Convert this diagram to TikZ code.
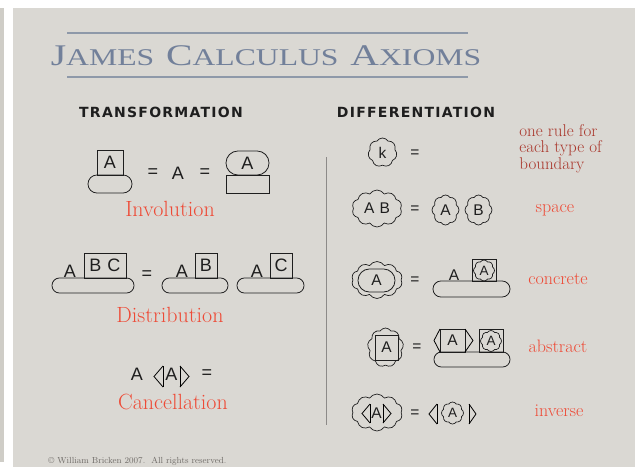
\documentclass[tikz,border=0pt]{standalone}
\usepackage{fontspec}
\usetikzlibrary{shapes.symbols}
\newfontfamily\lettf{Liberation Sans}
\newfontfamily\headf[LetterSpace=9]{DejaVu Sans}
\newfontfamily\titlef{Liberation Serif}
\definecolor{bgc}{HTML}{DAD8D3}
\definecolor{stripc}{HTML}{CFCDC7}
\definecolor{titlec}{HTML}{72809A}
\definecolor{rulec}{HTML}{8E99A9}
\definecolor{redc}{HTML}{EE4A36}
\definecolor{dredc}{HTML}{A9362B}
\definecolor{ink}{HTML}{1E1E1E}
\definecolor{divc}{HTML}{8C8A88}
\definecolor{copyc}{HTML}{6E6A66}
\newcommand\TB[1]{{\fontsize{30}{30}\selectfont #1}}
\newcommand\TS[1]{{\fontsize{24}{24}\selectfont #1}}
\begin{document}
\begin{tikzpicture}[x=1pt,y=-1pt,
  every path/.style={line width=0.8pt},
  symL/.style={font=\lettf\fontsize{18}{18}\selectfont, inner sep=0pt, text=ink},
  symR/.style={font=\lettf\fontsize{15.5}{15.5}\selectfont, inner sep=0pt, text=ink},
  symS/.style={font=\lettf\fontsize{13.5}{13.5}\selectfont, inner sep=0pt, text=ink},
  boxn/.style={draw=ink, inner sep=0pt},
  cl/.style={cloud, draw=ink, cloud puffs=#1, cloud puff arc=115, cloud ignores aspect, inner sep=0pt, line width=0.7pt},
  labL/.style={font=\fontsize{22}{22}\selectfont, text=redc, inner sep=0pt, anchor=base},
  labR/.style={font=\fontsize{18}{18}\selectfont, text=redc, inner sep=0pt, anchor=base},
  head/.style={font=\headf\bfseries\fontsize{14}{14}\selectfont, text=ink, inner sep=0pt, anchor=base},
  stad/.style={draw=ink}
]
\useasboundingbox (0,0) rectangle (635,467);
\fill[white] (0,0) rectangle (635,467);
\fill[stripc] (0,8) rectangle (4,462);
\fill[bgc] (13,8) rectangle (635,467);
% title
\draw[rulec, line width=1.2pt] (67,33) -- (468,33);
\draw[rulec, line width=1.2pt] (67,77) -- (468,77);
\node[font=\titlef, text=titlec, inner sep=0pt, anchor=base] (title) at (266,65)
  {\scalebox{1.32}[1]{\TB{J}\TS{AMES}\hspace{9pt}\TB{C}\TS{ALCULUS}\hspace{9pt}\TB{A}\TS{XIOMS}}};
% headers
\node[head] (h1) at (161,117) {TRANSFORMATION};
\node[head] (h2) at (416,117) {DIFFERENTIATION};
\draw[divc, line width=0.7pt] (326,157) -- (326,425);
% ---- Involution
\node[boxn, symL, minimum width=26pt, minimum height=25pt] (i1) at (110,162.5) {A};
\draw[stad, rounded corners=8.9pt] (88,175) rectangle (132,193);
\node[symL] (ie1) at (153,173) {=};
\node[symL] (ia) at (178,173) {A};
\node[symL] (ie2) at (205,173) {=};
\draw[stad, rounded corners=11.9pt] (226,151) rectangle (269,175);
\node[symL] (i2) at (247.5,163.5) {A};
\draw[stad] (226,175) rectangle (269,193);
\node[labL] (linv) at (170,216) {Involution};
% ---- Distribution
\node[symL] (d1a) at (70,271.5) {A};
\node[boxn, symL, minimum width=42pt, minimum height=25pt] (d1b) at (105,265.5) {B\,\,C};
\draw[stad, rounded corners=7.4pt] (52,278) rectangle (134,293);
\node[symL] (de) at (147,275) {=};
\node[symL] (d2a) at (182,271.5) {A};
\node[boxn, symL, minimum width=22pt, minimum height=25pt] (d2b) at (206,265.5) {B};
\draw[stad, rounded corners=7.4pt] (162,278) rectangle (228,293);
\node[symL] (d3a) at (257,271.5) {A};
\node[boxn, symL, minimum width=22pt, minimum height=25pt] (d3b) at (281,265.5) {C};
\draw[stad, rounded corners=7.4pt] (237,278) rectangle (304,293);
\node[labL] (ldis) at (170,322) {Distribution};
% ---- Cancellation
\node[symL] (ca) at (137,374) {A};
\draw (163,366) -- (154,376.5) -- (163,387);
\draw[line width=1pt] (163,366) -- (163,387);
\node[symL] (cb) at (171.5,374) {A};
\draw[line width=1pt] (180,366) -- (180,387);
\draw (180,366) -- (189,376.5) -- (180,387);
\node[symL] (ce) at (207,374) {=};
\node[labL] (lcan) at (173,409) {Cancellation};
% copyright
\node[font=\fontsize{8.8}{8.8}\selectfont, text=copyc, inner sep=0pt, anchor=base west] (copy) at (48,463) {\textcopyright{} William Bricken 2007.\ \ All rights reserved.};
% ---- Differentiation: k
\node[cl=7, symR, minimum width=29pt, minimum height=29pt] (k) at (382.5,152.5) {k};
\node[symR] (ke) at (415,154) {=};
\node[font=\fontsize{17}{16.5}\selectfont, text=dredc, inner sep=0pt, anchor=base west] (rule1) at (519,136) {one rule for};
\node[font=\fontsize{17}{16.5}\selectfont, text=dredc, inner sep=0pt, anchor=base west] (rule2) at (519,152.5) {each type of};
\node[font=\fontsize{17}{16.5}\selectfont, text=dredc, inner sep=0pt, anchor=base west] (rule3) at (519,169) {boundary};
% space
\node[cl=10, symR, minimum width=50pt, minimum height=37pt] (ab) at (377,208.5) {A\,\,B};
\node[symR] (se) at (415,210) {=};
\node[cl=8, symR, minimum width=27pt, minimum height=30pt] (sa) at (445.5,210) {A};
\node[cl=8, symR, minimum width=27pt, minimum height=30pt] (sb) at (478.5,210) {B};
\node[labR] (lsp) at (555,212) {space};
% concrete
\node[cl=10, minimum width=51pt, minimum height=37pt] (cc) at (377,280) {};
\draw[stad, rounded corners=11.4pt] (358,269) rectangle (395,292);
\node[symR] (cca) at (376.5,280.5) {A};
\node[symR] (cce) at (415,281) {=};
\draw[stad, rounded corners=7.9pt] (433,281) rectangle (510,297);
\node[symR] (ccb) at (454,275) {A};
\node[boxn, minimum width=24pt, minimum height=22pt] (ccbox) at (484,270) {};
\node[cl=8, symS, minimum width=21pt, minimum height=21pt] (ccin) at (484,270.5) {A};
\node[labR] (lcon) at (558,284) {concrete};
% abstract
\node[cl=9, minimum width=36pt, minimum height=39pt] (ac) at (385.5,347.5) {};
\node[boxn, symR, minimum width=23pt, minimum height=25pt] (acb) at (386.5,347.5) {A};
\node[symR] (ace) at (417,348) {=};
\draw[stad, rounded corners=7.4pt] (434,352) rectangle (510,367);
\node[boxn, symR, minimum width=25pt, minimum height=23pt] (ar) at (452.5,340.5) {A};
\draw (440,329) -- (434,340.5) -- (440,352);
\draw (465,329) -- (473,340.5) -- (465,352);
\node[boxn, minimum width=24pt, minimum height=23pt] (arbox) at (491,340.5) {};
\node[cl=8, symS, minimum width=21pt, minimum height=21pt] (arin) at (491,341) {A};
\node[labR] (labs) at (558,352) {abstract};
% inverse
\node[cl=10, minimum width=51pt, minimum height=37pt] (ic) at (377,412.5) {};
\draw (370,404) -- (362,413.5) -- (370,423);
\draw[line width=0.9pt] (370,404) -- (370,423);
\node[symR] (ica) at (376.5,413.5) {A};
\draw[line width=0.9pt] (383,404) -- (383,423);
\draw (383,404) -- (391,413.5) -- (383,423);
\node[symR] (ice) at (415,414) {=};
\draw (437,404) -- (429,414) -- (437,424);
\draw[line width=0.9pt] (437,404) -- (437,424);
\node[cl=8, symS, minimum width=22pt, minimum height=22pt] (icr) at (452.5,413) {A};
\draw[line width=0.9pt] (469,404) -- (469,424);
\draw (469,404) -- (476,414) -- (469,424);
\node[labR] (linv2) at (559,416) {inverse};
\end{tikzpicture}
\end{document}
